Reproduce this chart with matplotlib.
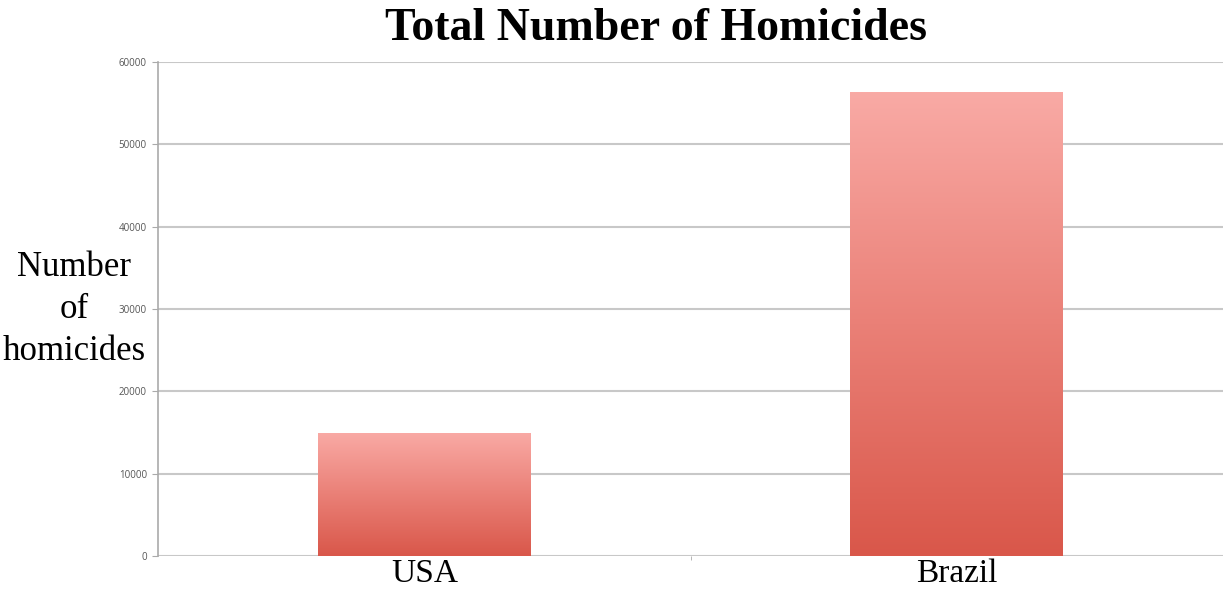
import matplotlib
matplotlib.use("Agg")
import matplotlib.pyplot as plt
import numpy as np
from matplotlib.colors import LinearSegmentedColormap

categories = ["USA", "Brazil"]
values = [14940, 56340]
yticks = [0, 10000, 20000, 30000, 40000, 50000, 60000]
ylabel_lines = ["Number", "of", "homicides"]

fig = plt.figure(figsize=(12.23, 5.92), dpi=100)
ax = fig.add_axes([158/1223, 36/592, 1 - 158/1223, (556-62)/592])

x = np.arange(len(categories))
bars = ax.bar(x, values, width=0.40, color="none", edgecolor="none", zorder=3)

cmap = LinearSegmentedColormap.from_list("g", ["#d9574a", "#ea8077", "#f9aaa5"])
grad = np.linspace(0, 1, 256).reshape(-1, 1)
for b in bars:
    x0, y0 = b.get_x(), b.get_y()
    w, h = b.get_width(), b.get_height()
    im = ax.imshow(grad, cmap=cmap, aspect="auto", origin="lower",
                   extent=[x0, x0 + w, y0, y0 + h], zorder=3, interpolation="bilinear")
    im.set_clip_path(b)

ax.set_xlim(-0.5, 1.5)
ax.set_ylim(0, 60000)
ax.set_yticks(yticks)
ax.set_yticklabels([str(t) for t in yticks], fontsize=7, color="#555555", family="Open Sans")
ax.tick_params(axis="y", length=4, color="#aaaaaa", pad=4)
ax.set_xticks(x)
ax.set_xticklabels(categories, fontsize=24, family="Liberation Serif", color="black")
ax.tick_params(axis="x", length=0, pad=2)
ax.set_xticks([0.5], minor=True)
ax.tick_params(axis="x", which="minor", length=3, color="#aaaaaa")

ax.grid(axis="y", color="#c8c8c8", linewidth=1.5, zorder=0)
ax.set_axisbelow(True)
for s in ["top", "right", "bottom"]:
    ax.spines[s].set_visible(False)
ax.spines["left"].set_color("#aaaaaa")
ax.spines["left"].set_linewidth(1.2)

fig.text(656/1223, 1 - 29/592, "Total Number of Homicides", ha="center", va="center",
         fontsize=33, fontweight="bold", family="Liberation Serif")
for line, ypix in zip(ylabel_lines, [268, 310, 352]):
    fig.text(74/1223, 1 - ypix/592, line, ha="center", va="center",
             fontsize=25, family="Liberation Serif")

fig.savefig("out.png", dpi=100)
